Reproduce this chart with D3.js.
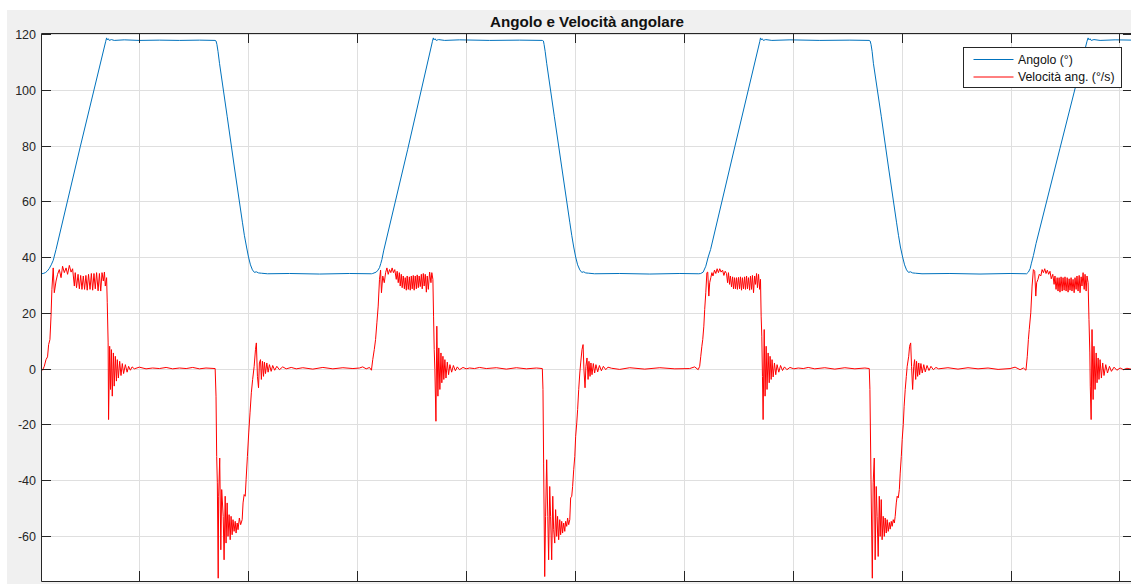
<!DOCTYPE html>
<html>
<head>
<meta charset="utf-8">
<script src="https://cdn.jsdelivr.net/npm/d3@7"></script>
<style>
  html, body { margin: 0; padding: 0; background: #ffffff; }
  svg { display: block; font-family: "Liberation Sans", Arial, Helvetica, sans-serif; }
</style>
</head>
<body>
<svg id="chart" width="1131" height="584"></svg>
<script>
// ---- data ---------------------------------------------------------------
const chartTitle = "Angolo e Velocità angolare";
const seriesNames = ["Angolo (°)", "Velocità ang. (°/s)"];
const seriesColors = ["#0072BD", "#FF0000"];

const xLimits = [0.52, 50.62];           // time, s
const yLimits = [-76.2, 120.36];
const xTickValues = [5, 10, 15, 20, 25, 30, 35, 40, 45, 50];
const yTickValues = [-60, -40, -20, 0, 20, 40, 60, 80, 100, 120];

// angle [t (s), deg]
const angolo = [
  [0.52,34.0],[0.62,34.1],[0.72,34.4],[0.81,35.0],[0.90,35.9],[0.99,37.2],[1.08,38.8],[1.21,42.7],[2.32,79.5],
  [3.49,117.4],[3.53,118.6],[3.56,117.9],[3.61,118.3],[3.65,117.7],[3.75,118.0],[3.88,117.7],[4.34,117.9],
  [5.03,117.7],[5.95,117.8],[6.87,117.7],[7.79,117.8],[8.51,117.7],[8.55,117.5],[8.59,116.3],[8.64,113.8],
  [8.71,109.5],[9.06,90.5],[9.39,72.3],[9.76,52.5],[9.85,47.8],[9.95,43.6],[10.04,40.0],[10.13,37.2],
  [10.22,35.4],[10.31,34.5],[10.40,34.7],[10.50,34.3],[10.63,34.2],[10.91,34.0],[11.92,34.1],[13.30,33.9],
  [14.67,34.1],[15.68,34.0],
  [15.74,34.1],[15.90,34.6],[15.98,35.3],[16.05,36.2],[16.11,37.7],[16.16,39.1],[16.24,42.2],[17.34,78.5],
  [18.48,117.4],[18.52,118.6],[18.55,117.9],[18.60,118.3],[18.65,117.7],[18.76,118.0],[19.04,117.7],
  [19.72,117.9],[21.10,117.7],[22.48,117.8],[23.52,117.7],[23.57,117.5],[23.60,116.3],[23.65,113.8],
  [23.72,109.5],[24.07,90.5],[24.41,72.3],[24.78,52.5],[24.87,47.8],[24.96,43.6],[25.05,40.0],[25.14,37.2],
  [25.24,35.4],[25.33,34.5],[25.42,34.7],[25.51,34.3],[25.65,34.2],[25.92,34.0],[27.07,34.1],[28.45,33.9],
  [29.83,34.1],[30.70,34.0],
  [30.79,34.1],[30.90,34.6],[31.02,36.7],[31.13,40.0],[31.24,42.7],[32.35,79.5],[33.50,117.4],[33.53,118.6],
  [33.57,117.9],[33.61,118.3],[33.66,117.7],[33.77,118.0],[34.05,117.7],[34.88,117.9],[36.25,117.7],
  [37.63,117.8],[38.52,117.7],[38.56,117.5],[38.60,116.3],[38.65,113.8],[38.71,109.5],[39.07,90.5],
  [39.40,72.3],[39.77,52.5],[39.86,47.8],[39.95,43.6],[40.05,40.0],[40.14,37.2],[40.23,35.4],[40.32,34.5],
  [40.41,34.7],[40.51,34.3],[40.64,34.2],[40.94,34.0],[42.22,34.1],[43.60,33.9],[44.98,34.1],[45.71,34.0],
  [45.74,34.0],[45.82,34.6],[45.90,35.8],[45.96,37.8],[46.05,40.5],[46.17,44.8],[47.27,79.0],[48.51,117.4],
  [48.56,118.6],[48.60,117.9],[48.65,118.3],[48.70,117.7],[48.83,118.0],[49.11,117.7],[49.80,117.9],[50.62,117.8]
];

// angular velocity [t (s), deg/s]
const velocita = [
  [0.52,0],[0.59,-0.6],[0.67,0.8],[0.75,3.2],[0.82,4.2],[0.87,8.6],[0.93,10.4],[0.98,18.8],[1.02,28.4],[1.08,36.1],
  [1.13,27.2],[1.21,31.4],[1.28,33.8],[1.36,35.5],[1.44,32.6],[1.51,36.7],[1.59,34.4],[1.67,36.1],[1.74,33.8],
  [1.82,37],[1.90,34.6],[1.97,35.8],[2.05,29.6],[2.09,34.4],[2.15,29],[2.22,33.8],[2.28,28.6],[2.34,33.4],
  [2.40,28.4],[2.46,33.2],[2.52,28.4],[2.58,33.4],[2.64,28.1],[2.70,33.8],[2.77,28.4],[2.83,34.1],[2.89,28.1],
  [2.95,34.1],[3.01,28.6],[3.07,34.4],[3.14,27.9],[3.20,34.1],[3.26,27.8],[3.32,34.4],[3.38,31.4],[3.43,34.6],
  [3.47,29.6],[3.53,32.6],[3.56,23.6],[3.60,9.2],[3.62,-18.3],[3.67,8.0],[3.71,-7.5],[3.75,6.8],[3.79,-9.9],
  [3.84,5.6],[3.88,-6.3],[3.93,4.4],[3.98,-4.5],[4.02,3.2],[4.07,-3.4],[4.13,2.6],[4.19,-2.5],[4.25,1.8],
  [4.31,-1.8],[4.39,1.4],[4.47,-1.3],[4.54,0.8],[4.62,-0.6],[4.70,0.6],[4.80,-0.1],[5.03,0.5],[5.34,-0.1],
  [5.64,0.2],[5.95,0],[6.26,0.4],[6.56,-0.1],[6.87,0.2],[7.18,0],[7.48,0.4],[7.79,-0.1],[8.09,0.2],[8.51,0],
  [8.55,-9.9],[8.58,-31.5],[8.61,-41],[8.65,-75.2],[8.67,-45.8],[8.72,-32.1],[8.77,-65],[8.81,-43.4],[8.88,-53],
  [8.92,-68.6],[8.97,-45.8],[9.01,-62.6],[9.06,-48.2],[9.10,-60.2],[9.15,-52.4],[9.20,-61.4],[9.24,-53],
  [9.29,-59.6],[9.33,-54.2],[9.38,-58.4],[9.43,-54.8],[9.47,-59],[9.52,-55.4],[9.56,-57.8],[9.62,-53.6],
  [9.68,-56],[9.75,-54.2],[9.79,-48.2],[9.84,-45.2],[9.89,-45.8],[9.93,-39.9],[9.99,-31.5],[10.05,-23.1],
  [10.11,-15.9],[10.17,-8.7],[10.23,-3.9],[10.30,0.8],[10.36,6.8],[10.40,9.2],[10.45,-2.8],[10.50,-6.9],
  [10.54,2.0],[10.59,3.2],[10.63,-3.9],[10.68,2.6],[10.73,-2.8],[10.77,2.3],[10.82,-1.8],[10.88,2.0],
  [10.94,-1.3],[11.00,1.4],[11.08,-1.0],[11.15,1.1],[11.24,-0.6],[11.34,0.8],[11.46,-0.4],[11.61,0.6],
  [11.77,-0.1],[12.00,0.4],[12.23,-0.1],[12.53,0.3],[12.99,-0.2],[13.45,0.4],[13.91,-0.1],[14.37,0.3],[14.83,0],
  [15.13,0.2],[15.28,0.6],[15.44,-0.1],[15.59,0.4],[15.68,-0.6],[15.74,3.2],[15.81,6.8],[15.87,10.4],
  [15.93,16.4],[15.99,22.4],[16.05,32],[16.10,35.3],[16.14,27.2],[16.20,33.2],[16.27,30.8],[16.33,34.4],
  [16.39,36.1],[16.45,33.8],[16.51,35.5],[16.57,34.4],[16.63,36.1],[16.69,34.4],[16.75,35.5],[16.82,32],
  [16.86,34.9],[16.91,30.8],[16.96,34.4],[17.00,29.6],[17.05,33.8],[17.09,29],[17.14,33.2],[17.19,28.6],
  [17.23,32.6],[17.28,28.1],[17.32,33.2],[17.37,28.4],[17.42,32.9],[17.46,28.1],[17.51,33.2],[17.55,28.6],
  [17.60,33.4],[17.64,28.1],[17.69,33.2],[17.74,28.6],[17.78,33.6],[17.83,29],[17.87,33.2],[17.92,29.4],
  [17.97,33.8],[18.01,28.6],[18.06,34.1],[18.10,29.6],[18.15,33.8],[18.20,27.4],[18.24,33.2],[18.29,28.4],
  [18.35,34.6],[18.41,30.8],[18.45,34.4],[18.50,32],[18.53,18.8],[18.56,6.8],[18.59,-0.4],[18.64,-18.9],
  [18.68,15.2],[18.73,-9.9],[18.77,7.4],[18.82,-7.5],[18.87,5.6],[18.91,-5.1],[18.96,4.4],[19.00,-3.9],
  [19.05,3.2],[19.10,-3.4],[19.16,2.3],[19.22,-2.2],[19.28,1.4],[19.36,-1.3],[19.44,1.1],[19.53,-0.8],
  [19.62,0.6],[19.72,-0.4],[19.88,0.4],[20.03,-0.1],[20.18,0.2],[20.41,0],[20.64,0.4],[20.95,0],[21.41,0.3],
  [21.87,-0.2],[22.33,0.3],[22.79,-0.1],[23.25,0.2],[23.52,0],[23.55,-7.5],[23.58,-33.9],[23.63,-74.6],
  [23.67,-53],[23.72,-32.7],[23.77,-53],[23.81,-68.6],[23.86,-42.3],[23.90,-53],[23.95,-68.6],[24.00,-45.8],
  [24.04,-57.8],[24.09,-62.6],[24.13,-50.6],[24.18,-60.2],[24.22,-53],[24.27,-61.4],[24.32,-54.2],
  [24.36,-59.6],[24.41,-54.8],[24.45,-59],[24.50,-55.4],[24.55,-58.4],[24.59,-54.8],[24.64,-56.6],
  [24.68,-53.6],[24.73,-56],[24.78,-54.2],[24.82,-46.4],[24.87,-45.8],[24.91,-42.3],[24.96,-36.3],
  [25.01,-31.5],[25.05,-24.3],[25.10,-19.5],[25.14,-14.7],[25.19,-7.5],[25.24,-1.6],[25.28,2.0],[25.34,6.8],
  [25.39,8.6],[25.43,-0.4],[25.48,-6.9],[25.52,0.8],[25.57,3.8],[25.62,-3.9],[25.66,2.6],[25.71,-2.8],
  [25.75,2.0],[25.80,-2.2],[25.86,1.8],[25.92,-1.6],[25.98,1.4],[26.06,-1.2],[26.14,1.1],[26.23,-0.8],
  [26.32,0.8],[26.43,-0.4],[26.53,0.5],[26.70,0.1],[27.07,-0.3],[27.53,0.3],[28.22,-0.2],[28.91,0.3],[29.60,-0.1],
  [30.28,0],[30.51,0.6],[30.67,-0.4],[30.74,0.8],[30.79,4.4],[30.84,8.0],[30.88,10.4],[30.93,15.2],[30.97,21.2],
  [31.02,27.2],[31.07,34.4],[31.11,34.6],[31.16,26],[31.20,30.8],[31.25,32.6],[31.30,34.4],[31.35,33.2],
  [31.42,35.3],[31.48,34.1],[31.54,35.8],[31.60,34.4],[31.66,35.8],[31.72,34.6],[31.79,35.3],[31.85,33.4],
  [31.91,34.9],[31.97,34.1],[32.02,30.8],[32.06,34.4],[32.11,30.2],[32.15,33.2],[32.20,29.3],[32.25,32.9],
  [32.29,28.6],[32.34,32.6],[32.38,28.6],[32.43,32.6],[32.47,28.4],[32.52,32.7],[32.57,28.6],[32.61,32.9],
  [32.66,28.1],[32.70,32.6],[32.75,28.6],[32.80,32.9],[32.84,28.4],[32.89,33.2],[32.93,28.6],[32.98,32.6],
  [33.03,28.1],[33.07,33.2],[33.12,28.4],[33.16,33.4],[33.21,27.2],[33.26,33.2],[33.30,30.2],[33.35,34.1],
  [33.39,29],[33.44,33.8],[33.49,28.4],[33.53,32],[33.56,18.8],[33.59,11.6],[33.62,-2.8],[33.65,-18.3],
  [33.70,14],[33.74,-9.9],[33.79,8.0],[33.83,-7.5],[33.88,5.6],[33.93,-5.1],[33.97,4.4],[34.02,-3.9],
  [34.06,3.2],[34.11,-3.0],[34.17,2.0],[34.23,-2.2],[34.29,1.4],[34.37,-1.3],[34.45,1.1],[34.54,-0.7],
  [34.63,0.6],[34.74,-0.4],[34.88,0.4],[35.06,-0.1],[35.26,0.2],[35.49,0],[35.72,0.4],[36.02,-0.1],[36.48,0.3],
  [36.94,-0.2],[37.40,0.3],[37.86,-0.1],[38.32,0.2],[38.52,0],[38.55,-7.5],[38.60,-39.9],[38.66,-75.2],
  [38.70,-41],[38.75,-32.1],[38.79,-68.6],[38.84,-42.3],[38.88,-53],[38.93,-67.4],[38.98,-45.8],[39.02,-60.2],
  [39.07,-47],[39.11,-61.4],[39.16,-53],[39.21,-60.2],[39.25,-53.6],[39.30,-59],[39.34,-54.2],[39.39,-58.4],
  [39.44,-55.2],[39.48,-57.6],[39.53,-54.8],[39.57,-56.6],[39.62,-54.2],[39.67,-55.4],[39.71,-53],
  [39.76,-48.2],[39.80,-45.8],[39.85,-46.4],[39.90,-43.4],[39.94,-37.5],[39.99,-31.5],[40.03,-25.5],
  [40.08,-20.1],[40.12,-13.5],[40.17,-7.5],[40.22,-2.8],[40.26,0.8],[40.33,4.4],[40.37,8.0],[40.42,9.2],
  [40.46,0.8],[40.51,-7.5],[40.56,0.8],[40.60,3.2],[40.65,-3.9],[40.69,2.6],[40.74,-2.8],[40.79,2.0],
  [40.83,-2.2],[40.89,1.8],[40.95,-1.6],[41.02,1.4],[41.09,-1.2],[41.17,1.1],[41.26,-0.7],[41.35,0.8],
  [41.46,-0.4],[41.58,0.4],[41.70,-0.1],[42.13,0.3],[42.59,-0.2],[43.05,0.3],[43.51,-0.1],[43.97,0.2],[44.43,-0.3],
  [44.98,0],[45.21,0.5],[45.44,-0.4],[45.59,0.2],[45.71,-0.6],[45.77,4.4],[45.82,10.4],[45.86,14],[45.93,20],
  [45.99,29.6],[46.05,35.5],[46.11,34.9],[46.16,26],[46.20,30.8],[46.26,32],[46.32,33.8],[46.39,33.2],
  [46.45,35.5],[46.51,34.4],[46.57,35.8],[46.63,34.1],[46.69,35.3],[46.75,33.8],[46.81,34.9],[46.87,32.2],
  [46.94,33.8],[47.00,30.2],[47.04,33.2],[47.09,28.4],[47.14,32.6],[47.18,27.8],[47.23,32.6],[47.27,27.4],
  [47.32,32.9],[47.37,27.8],[47.41,32.6],[47.46,28.1],[47.50,32.9],[47.55,27.8],[47.60,32.6],[47.64,27.4],
  [47.69,32.2],[47.73,28.1],[47.78,32.6],[47.82,27.8],[47.87,32],[47.92,27.2],[47.96,32.6],[48.01,28.4],
  [48.05,33.2],[48.10,27.8],[48.15,33.4],[48.19,27.2],[48.24,32.9],[48.28,29.6],[48.33,34.4],[48.38,28.4],
  [48.42,33.8],[48.47,27.8],[48.51,33.2],[48.56,30.8],[48.60,17.6],[48.64,5.6],[48.66,-6.3],[48.70,-18.3],
  [48.74,14],[48.79,-11.1],[48.83,8.0],[48.88,-7.5],[48.93,5.6],[48.97,-5.1],[49.02,3.8],[49.06,-3.9],
  [49.11,3.2],[49.17,-3.4],[49.23,2.0],[49.29,-2.5],[49.37,1.4],[49.45,-1.6],[49.54,0.8],[49.63,-1.0],
  [49.75,0.5],[49.88,-0.6],[50.03,0.2],[50.18,-0.4],[50.34,0.1],[50.53,-0.2],[50.62,0]
];

// ---- layout -------------------------------------------------------------
const W = 1131, H = 584;
const box = { left: 41, right: 1133, top: 33, bottom: 581 };
const tickLen = 10;

const svg = d3.select("#chart");

// figure background
svg.append("rect")
  .attr("x", 7).attr("y", 10)
  .attr("width", W).attr("height", H)
  .attr("fill", "#f0f0f0");

// plot area
svg.append("rect")
  .attr("x", box.left).attr("y", box.top)
  .attr("width", box.right - box.left).attr("height", box.bottom - box.top)
  .attr("fill", "#ffffff");

const x = d3.scaleLinear().domain(xLimits).range([box.left, box.right]);
const y = d3.scaleLinear().domain(yLimits).range([box.bottom, box.top]);
// rounded copies keep the grid and tick lines crisp
const xr = x.copy().interpolate(d3.interpolateRound);
const yr = y.copy().interpolate(d3.interpolateRound);

// grid
svg.append("g")
  .attr("transform", `translate(0,${box.bottom})`)
  .call(d3.axisBottom(xr).tickValues(xTickValues).tickSize(-(box.bottom - box.top)).tickFormat(""))
  .call(g => g.select(".domain").remove())
  .call(g => g.selectAll("line").attr("stroke", "#dfdfdf"));
svg.append("g")
  .attr("transform", `translate(${box.left},0)`)
  .call(d3.axisLeft(yr).tickValues(yTickValues).tickSize(-(box.right - box.left)).tickFormat(""))
  .call(g => g.select(".domain").remove())
  .call(g => g.selectAll("line").attr("stroke", "#dfdfdf"));

// data lines
svg.append("clipPath").attr("id", "plotClip")
  .append("rect")
  .attr("x", box.left).attr("y", box.top)
  .attr("width", box.right - box.left).attr("height", box.bottom - box.top);

const line = d3.line().x(d => x(d[0])).y(d => y(d[1]));
const plot = svg.append("g").attr("clip-path", "url(#plotClip)");
[angolo, velocita].forEach((series, i) => {
  plot.append("path")
    .datum(series)
    .attr("fill", "none")
    .attr("stroke", seriesColors[i])
    .attr("stroke-width", 1)
    .attr("stroke-linejoin", "round")
    .attr("d", line);
});

// axes (ticks pointing inward on all four sides)
const axisColor = "#262626";
const fontFamily = '"Liberation Sans", Arial, Helvetica, sans-serif';
const plainNumber = d => String(d);   // ASCII hyphen for negatives
function styleAxis(g) {
  g.selectAll("line").attr("stroke", axisColor);
  g.select(".domain").attr("stroke", axisColor);
}
svg.append("g")
  .attr("transform", `translate(${box.left},0)`)
  .call(d3.axisLeft(yr).tickValues(yTickValues).tickSizeInner(-tickLen).tickSizeOuter(0)
        .tickPadding(5).tickFormat(plainNumber))
  .call(styleAxis)
  .call(g => g.selectAll("text")
      .attr("font-size", 12.5).attr("font-family", fontFamily).attr("fill", axisColor));
svg.append("g")
  .attr("transform", `translate(${box.right},0)`)
  .call(d3.axisRight(yr).tickValues(yTickValues).tickSizeInner(-tickLen).tickSizeOuter(0).tickFormat(""))
  .call(styleAxis);
svg.append("g")
  .attr("transform", `translate(0,${box.bottom})`)
  .call(d3.axisBottom(xr).tickValues(xTickValues).tickSizeInner(-tickLen).tickSizeOuter(0).tickFormat(""))
  .call(styleAxis);
svg.append("g")
  .attr("transform", `translate(0,${box.top})`)
  .call(d3.axisTop(xr).tickValues(xTickValues).tickSizeInner(-tickLen).tickSizeOuter(0).tickFormat(""))
  .call(styleAxis);

// title
svg.append("text")
  .attr("x", (box.left + box.right) / 2)
  .attr("y", 27)
  .attr("text-anchor", "middle")
  .attr("font-size", 15.2)
  .attr("font-weight", "bold")
  .attr("fill", "#111111")
  .text(chartTitle);

// legend
const legend = svg.append("g").attr("transform", "translate(963.5,47.5)");
legend.append("rect")
  .attr("width", 158).attr("height", 40)
  .attr("fill", "#ffffff").attr("stroke", axisColor).attr("stroke-width", 1);
seriesNames.forEach((name, i) => {
  const ly = 12 + i * 17.5;
  legend.append("line")
    .attr("x1", 10).attr("x2", 50).attr("y1", ly).attr("y2", ly)
    .attr("stroke", seriesColors[i]).attr("stroke-width", 1);
  legend.append("text")
    .attr("x", 54.5).attr("y", ly).attr("dy", "0.35em")
    .attr("font-size", 12.3).attr("fill", "#111111")
    .text(name);
});
</script>
</body>
</html>
